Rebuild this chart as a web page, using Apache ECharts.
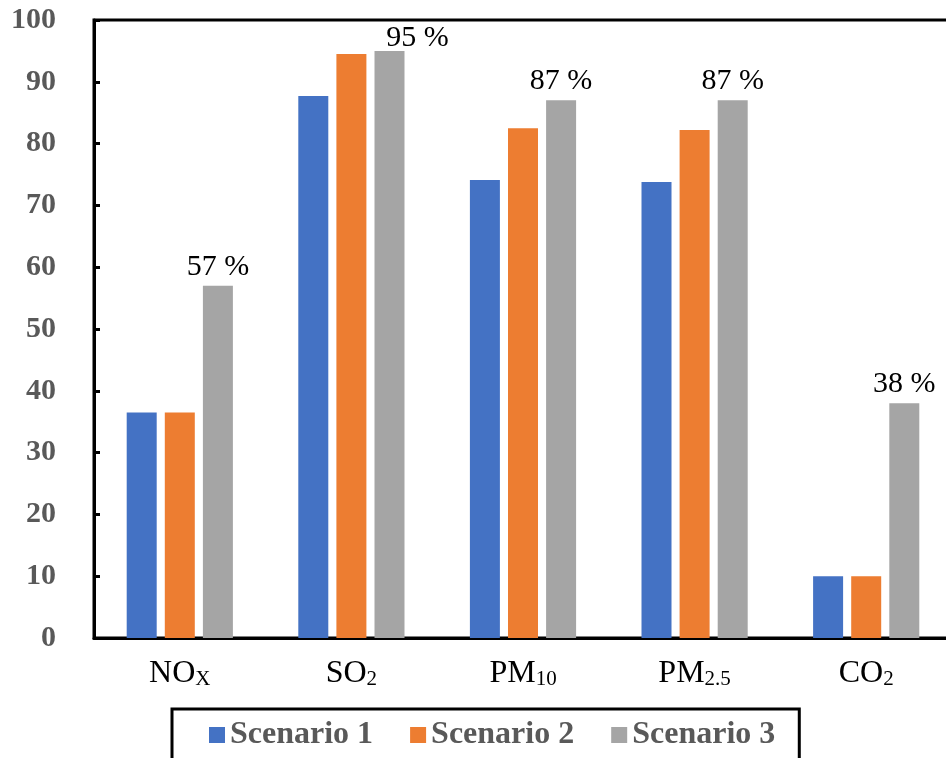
<!DOCTYPE html>
<html>
<head>
<meta charset="utf-8">
<title>Emission reduction by scenario</title>
<script src="https://cdn.jsdelivr.net/npm/echarts@6/dist/echarts.min.js"></script>
<style>
  html, body { margin: 0; padding: 0; background: #fff; }
  #chart { width: 946px; height: 758px; }
</style>
</head>
<body>
<div id="chart"></div>
<script>
// Pollutant names, split into main text and subscript
const categoryBase = ['NO', 'SO', 'PM', 'PM', 'CO'];
const categorySub = ['X', '2', '10', '2.5', '2'];
const categories = categoryBase.map((b, i) => b + categorySub[i]);

// Reduction (%) for each scenario
const scenarioNames = ['Scenario 1', 'Scenario 2', 'Scenario 3'];
const scenario1 = [36.5, 87.7, 74.1, 73.8, 10];
const scenario2 = [36.5, 94.5, 82.5, 82.2, 10];
const scenario3 = [57, 95, 87, 87, 38];

// Value-axis tick range
const yMin = 0;
const yMax = 100;
const yStep = 10;

const colors = ['#4472C4', '#ED7D31', '#A5A5A5'];
const serif = '"Liberation Serif", "Times New Roman", serif';

const chart = echarts.init(document.getElementById('chart'));

const seriesValues = [scenario1, scenario2, scenario3];

// The SO2 label sits beside the top frame, so it is nudged right and down
const labelNudge = { 1: [28, 6] };

const series = seriesValues.map((vals, i) => ({
  name: scenarioNames[i],
  type: 'bar',
  data: i === 2
    ? vals.map((v, k) => (labelNudge[k] ? { value: v, label: { offset: labelNudge[k] } } : v))
    : vals,
  barWidth: 30,
  barGap: '27%',
  itemStyle: { color: colors[i] },
  label: i === 2 ? {
    show: true,
    position: 'top',
    distance: 4,
    formatter: p => p.value + ' %',
    fontFamily: serif,
    fontSize: 30,
    color: '#000'
  } : { show: false }
}));

chart.setOption({
  animation: false,
  backgroundColor: '#fff',
  grid: {
    left: 94,
    top: 20,
    width: 858,
    height: 618,
    outerBoundsMode: 'none',
    containLabel: false,
    show: true,
    borderColor: '#000',
    borderWidth: 3,
    backgroundColor: 'transparent'
  },
  legend: {
    data: scenarioNames,
    left: 172,
    top: 709,
    orient: 'horizontal',
    itemWidth: 16,
    itemHeight: 16,
    itemGap: 37,
    icon: 'rect',
    padding: [10, 24, 40, 37],
    borderColor: '#000',
    borderWidth: 3,
    textStyle: {
      fontFamily: serif,
      fontSize: 32,
      fontWeight: 'bold',
      color: '#595959'
    }
  },
  xAxis: {
    type: 'category',
    data: categories,
    axisLine: { show: true, lineStyle: { color: '#000', width: 3 } },
    axisTick: { show: false },
    axisLabel: {
      margin: 14,
      formatter: (value, idx) => '{b|' + categoryBase[idx] + '}{s|' + categorySub[idx] + '}',
      rich: {
        b: { fontFamily: serif, fontSize: 32, color: '#000', lineHeight: 38, verticalAlign: 'bottom' },
        s: { fontFamily: serif, fontSize: 21, color: '#000', lineHeight: 10, verticalAlign: 'bottom' }
      }
    },
    splitLine: { show: false }
  },
  yAxis: {
    type: 'value',
    min: yMin,
    max: yMax,
    interval: yStep,
    axisLine: { show: true, lineStyle: { color: '#000', width: 3 } },
    axisTick: { show: true, inside: true, length: 6, lineStyle: { color: '#000', width: 3 } },
    axisLabel: {
      margin: 38,
      fontFamily: serif,
      fontSize: 30,
      fontWeight: 'bold',
      color: '#595959'
    },
    splitLine: { show: false }
  },
  series: series
});
</script>
</body>
</html>
